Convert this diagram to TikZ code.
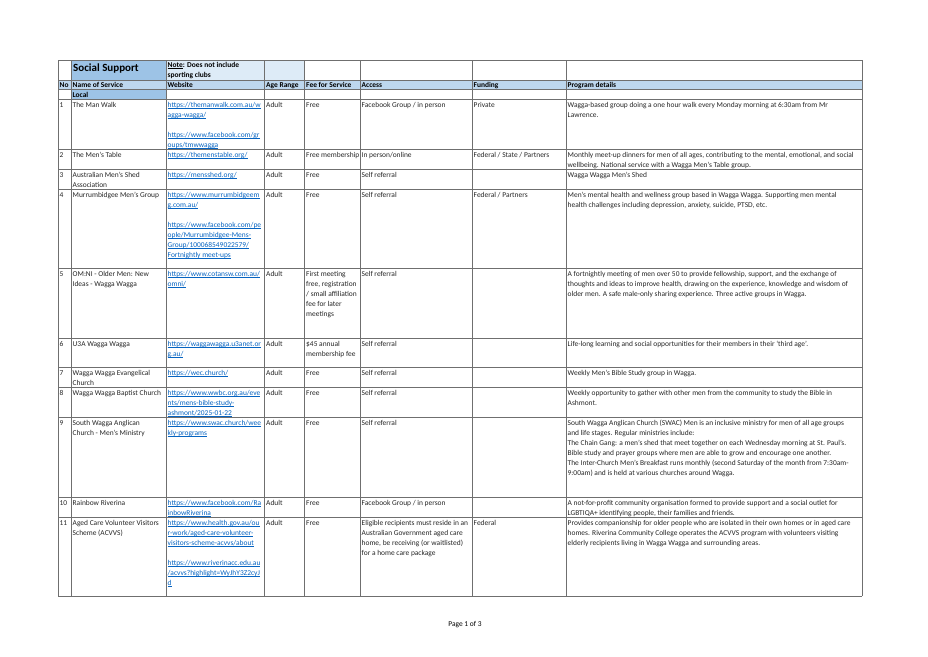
\documentclass[tikz,border=0pt]{standalone}
\usepackage{fontspec}
\setmainfont{Carlito}
\definecolor{linkblue}{HTML}{0563C1}
\definecolor{midblue}{HTML}{9DC3E6}
\definecolor{hdrblue}{HTML}{BDD7EE}
\definecolor{lightblue}{HTML}{DDEBF7}
\definecolor{gridgray}{HTML}{6F6F6F}
\definecolor{txt}{HTML}{262626}
\newcommand\lnk[1]{{\color{linkblue}\setbox0\hbox{#1}\rlap{\rule[-1.1pt]{\wd0}{0.45pt}}\box0}}
\newcommand\ulnote[1]{{\setbox0\hbox{#1}\rlap{\rule[-1.1pt]{\wd0}{0.45pt}}\box0}}
\tikzset{
  cellt/.style={anchor=north west, inner sep=0pt, align=left, font=\fontsize{7.45}{10}\selectfont, text=txt},
  hdr/.style={cellt, font=\fontsize{7.45}{10}\selectfont\bfseries, text=black},
  grid/.style={draw=gridgray, line width=0.8pt}
}
\newcommand\cell[4]{\node[cellt] (#1) at (#2,#3) {\strut#4};}
\newcommand\hcell[4]{\node[hdr] (#1) at (#2,#3) {\strut#4};}
\begin{document}
\begin{tikzpicture}[x=1pt,y=-1pt]
\useasboundingbox[fill=white] (0,0) rectangle (928,656);
% fills
\fill[midblue] (71,60) rectangle (166,80);
\fill[lightblue] (166,60) rectangle (304.5,80);
\fill[hdrblue] (58,80) rectangle (862,89.5);
\fill[midblue] (71,89.5) rectangle (166,99.5);
% horizontal lines
\foreach \y in {60,80,89.5,99.5,149.5,169.5,189.5,268,338,367.5,387.5,417,497,517,596}
  \draw[grid] (58,\y) -- (862,\y);
% vertical lines
\foreach \x in {58,71,166,264.5,304.5,360,472,566,862}
  \draw[grid] (\x,60) -- (\x,596);
% title row
\node[anchor=base west, inner sep=0pt, font=\fontsize{11}{13}\selectfont\bfseries] (title) at (73,71.5) {Social Support};
\hcell{note}{167.5}{60.5}{\ulnote{Note}: Does not include\\sporting clubs}
% header row
\hcell{hNo}{59.5}{80.5}{No}
\hcell{hName}{72.5}{80.5}{Name of Service}
\hcell{hWeb}{167.5}{80.5}{Website}
\hcell{hAge}{266}{80.5}{Age Range}
\hcell{hFee}{306}{80.5}{Fee for Service}
\hcell{hAcc}{361.5}{80.5}{Access}
\hcell{hFun}{473.5}{80.5}{Funding}
\hcell{hPro}{567.5}{80.5}{Program details}
\hcell{local}{72.5}{90.5}{Local}
% row 1
\cell{n1}{59.5}{100.5}{1}
\cell{s1}{72.5}{100.5}{The Man Walk}
\cell{w1}{167.5}{100.5}{\lnk{https://themanwalk.com.au/w}\\\lnk{agga-wagga/}\\[10pt]\lnk{https://www.facebook.com/gr}\\\lnk{oups/tmwwagga}}
\cell{a1}{266}{100.5}{Adult}
\cell{f1}{306}{100.5}{Free}
\cell{c1}{361.5}{100.5}{Facebook Group / in person}
\cell{u1}{473.5}{100.5}{Private}
\cell{p1}{567.5}{100.5}{Wagga-based group doing a one hour walk every Monday morning at 6:30am from Mr\\Lawrence.}
% row 2
\cell{n2}{59.5}{150.5}{2}
\cell{s2}{72.5}{150.5}{The Men’s Table}
\cell{w2}{167.5}{150.5}{\lnk{https://themenstable.org/}}
\cell{a2}{266}{150.5}{Adult}
\begin{scope}
\clip (304.5,150) rectangle (360.5,169);
\cell{f2}{306}{150.5}{Free membership}
\end{scope}
\cell{c2}{361.5}{150.5}{In person/online}
\cell{u2}{473.5}{150.5}{Federal / State / Partners}
\cell{p2}{567.5}{150.5}{Monthly meet-up dinners for men of all ages, contributing to the mental, emotional, and social\\wellbeing. National service with a Wagga Men’s Table group.}
% row 3
\cell{n3}{59.5}{170.5}{3}
\cell{s3}{72.5}{170.5}{Australian Men’s Shed\\Association}
\cell{w3}{167.5}{170.5}{\lnk{https://mensshed.org/}}
\cell{a3}{266}{170.5}{Adult}
\cell{f3}{306}{170.5}{Free}
\cell{c3}{361.5}{170.5}{Self referral}
\cell{p3}{567.5}{170.5}{Wagga Wagga Men’s Shed}
% row 4
\cell{n4}{59.5}{190.5}{4}
\cell{s4}{72.5}{190.5}{Murrumbidgee Men’s Group}
\cell{w4}{167.5}{190.5}{\lnk{https://www.murrumbidgeem}\\\lnk{g.com.au/}\\[10pt]\lnk{https://www.facebook.com/pe}\\\lnk{ople/Murrumbidgee-Mens-}\\\lnk{Group/100068549022579/}\\\lnk{Fortnightly meet-ups}}
\cell{a4}{266}{190.5}{Adult}
\cell{f4}{306}{190.5}{Free}
\cell{c4}{361.5}{190.5}{Self referral}
\cell{u4}{473.5}{190.5}{Federal / Partners}
\cell{p4}{567.5}{190.5}{Men’s mental health and wellness group based in Wagga Wagga. Supporting men mental\\health challenges including depression, anxiety, suicide, PTSD, etc.}
% row 5
\cell{n5}{59.5}{269}{5}
\cell{s5}{72.5}{269}{OM:NI - Older Men: New\\Ideas - Wagga Wagga}
\cell{w5}{167.5}{269}{\lnk{https://www.cotansw.com.au/}\\\lnk{omni/}}
\cell{a5}{266}{269}{Adult}
\cell{f5}{306}{269}{First meeting\\free, registration\\/ small affiliation\\fee for later\\meetings}
\cell{c5}{361.5}{269}{Self referral}
\cell{p5}{567.5}{269}{A fortnightly meeting of men over 50 to provide fellowship, support, and the exchange of\\thoughts and ideas to improve health, drawing on the experience, knowledge and wisdom of\\older men. A safe male-only sharing experience. Three active groups in Wagga.}
% row 6
\cell{n6}{59.5}{339}{6}
\cell{s6}{72.5}{339}{U3A Wagga Wagga}
\cell{w6}{167.5}{339}{\lnk{https://waggawagga.u3anet.or}\\\lnk{g.au/}}
\cell{a6}{266}{339}{Adult}
\cell{f6}{306}{339}{\$45 annual\\membership fee}
\cell{c6}{361.5}{339}{Self referral}
\cell{p6}{567.5}{339}{Life-long learning and social opportunities for their members in their ‘third age’.}
% row 7
\cell{n7}{59.5}{368.5}{7}
\cell{s7}{72.5}{368.5}{Wagga Wagga Evangelical\\Church}
\cell{w7}{167.5}{368.5}{\lnk{https://wec.church/}}
\cell{a7}{266}{368.5}{Adult}
\cell{f7}{306}{368.5}{Free}
\cell{c7}{361.5}{368.5}{Self referral}
\cell{p7}{567.5}{368.5}{Weekly Men’s Bible Study group in Wagga.}
% row 8
\cell{n8}{59.5}{388.5}{8}
\cell{s8}{72.5}{388.5}{Wagga Wagga Baptist Church}
\cell{w8}{167.5}{388.5}{\lnk{https://www.wwbc.org.au/eve}\\\lnk{nts/mens-bible-study-}\\\lnk{ashmont/2025-01-22}}
\cell{a8}{266}{388.5}{Adult}
\cell{f8}{306}{388.5}{Free}
\cell{c8}{361.5}{388.5}{Self referral}
\cell{p8}{567.5}{388.5}{Weekly opportunity to gather with other men from the community to study the Bible in\\Ashmont.}
% row 9
\cell{n9}{59.5}{418}{9}
\cell{s9}{72.5}{418}{South Wagga Anglican\\Church - Men’s Ministry}
\cell{w9}{167.5}{418}{\lnk{https://www.swac.church/wee}\\\lnk{kly-programs}}
\cell{a9}{266}{418}{Adult}
\cell{f9}{306}{418}{Free}
\cell{c9}{361.5}{418}{Self referral}
\cell{p9}{567.5}{418}{South Wagga Anglican Church (SWAC) Men is an inclusive ministry for men of all age groups\\and life stages. Regular ministries include:\\The Chain Gang: a men’s shed that meet together on each Wednesday morning at St. Paul’s.\\Bible study and prayer groups where men are able to grow and encourage one another.\\The Inter-Church Men’s Breakfast runs monthly (second Saturday of the month from 7:30am-\\9:00am) and is held at various churches around Wagga.}
% row 10
\cell{n10}{59.5}{498}{10}
\cell{s10}{72.5}{498}{Rainbow Riverina}
\cell{w10}{167.5}{498}{\lnk{https://www.facebook.com/Ra}\\\lnk{inbowRiverina}}
\cell{a10}{266}{498}{Adult}
\cell{f10}{306}{498}{Free}
\cell{c10}{361.5}{498}{Facebook Group / in person}
\cell{p10}{567.5}{498}{A not-for-profit community organisation formed to provide support and a social outlet for\\LGBTIQA+ identifying people, their families and friends.}
% row 11
\cell{n11}{59.5}{518}{11}
\cell{s11}{72.5}{518}{Aged Care Volunteer Visitors\\Scheme (ACVVS)}
\cell{w11}{167.5}{518}{\lnk{https://www.health.gov.au/ou}\\\lnk{r-work/aged-care-volunteer-}\\\lnk{visitors-scheme-acvvs/about}\\[10pt]\lnk{https://www.riverinacc.edu.au}\\\lnk{/acvvs?highlight=WyJhY3Z2cyJ}\\\lnk{d}}
\cell{a11}{266}{518}{Adult}
\cell{f11}{306}{518}{Free}
\cell{c11}{361.5}{518}{Eligible recipients must reside in an\\Australian Government aged care\\home, be receiving (or waitlisted)\\for a home care package}
\cell{u11}{473.5}{518}{Federal}
\cell{p11}{567.5}{518}{Provides companionship for older people who are isolated in their own homes or in aged care\\homes. Riverina Community College operates the ACVVS program with volunteers visiting\\elderly recipients living in Wagga Wagga and surrounding areas.}
% footer
\node[inner sep=0pt, font=\fontsize{7.45}{10}\selectfont, text=black] (footer) at (465,625) {Page 1 of 3};
\end{tikzpicture}
\end{document}
